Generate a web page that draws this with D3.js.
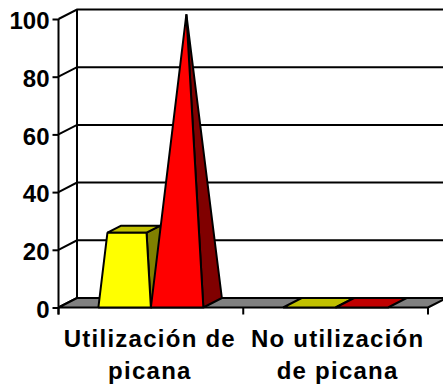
<!DOCTYPE html>
<html>
<head>
<meta charset="utf-8">
<script src="https://cdn.jsdelivr.net/npm/d3@7"></script>
<style>
  html, body { margin: 0; padding: 0; background: #fff; }
  svg { display: block; }
  text { font-family: "Liberation Sans", Arial, sans-serif; font-weight: bold; fill: #000; }
  .wall { stroke: #000; stroke-width: 2; fill: none; }
  .tick-y text { font-size: 24px; }
  .tick-x text { font-size: 24px; letter-spacing: 1.25px; }
  .face { stroke: #000; stroke-width: 2; stroke-linejoin: bevel; }
</style>
</head>
<body>
<svg width="443" height="387"></svg>
<script>
const categories = [['Utilización de', 'picana'], ['No utilización', 'de picana']];
const yTickValues = [0, 20, 40, 60, 80, 100];
const yellowValues = [25.5, 0];
const redValues = [100, 0];
const seriesNames = ['yellow', 'red'];
const frontColors = ['#ffff00', '#ff0000'];
const topColors = ['#c0c000', '#c00000'];
const sideColors = ['#808000', '#800000'];

const svg = d3.select('svg');
const width = +svg.attr('width');

const depthX = 18.5;
const depthY = 9.5;

const yScale = d3.scaleLinear().domain([0, 100]).range([307.5, 19]);
const xScale = d3.scaleBand().domain(d3.range(categories.length)).range([58.5, 428]);
const seriesScale = d3.scaleBand().domain(seriesNames).range([0, xScale.bandwidth()]).paddingOuter(0.76);

// d is depth into the chart, 0 at the front plane and 1 at the back wall
const project = (x, v, d) => [x + d * depthX, yScale(v) - d * depthY];
const floorLeft = xScale.range()[0];
const floorRight = xScale.range()[1];

// walls and grid
const gridG = svg.append('g');
yTickValues.forEach(v => {
  const front = project(floorLeft, v, 0);
  const back = project(floorLeft, v, 1);
  gridG.append('path').attr('class', 'wall')
    .attr('d', d3.line()([front, back, [width, back[1]]]));
});
const wallTop = project(floorLeft, 100, 1);
const wallBottom = project(floorLeft, 0, 1);
gridG.append('path').attr('class', 'wall').attr('d', d3.line()([wallTop, wallBottom]));

// floor
svg.append('path')
  .attr('class', 'face')
  .attr('fill', '#808080')
  .attr('d', d3.line()([
    project(floorLeft, 0, 0),
    project(floorRight, 0, 0),
    project(floorRight, 0, 1),
    project(floorLeft, 0, 1)
  ]) + 'Z');

// truncated pyramids, narrowing to a point at 100
const drawBar = (group, s, v) => {
  const x0 = xScale(group) + seriesScale(seriesNames[s]);
  const w = seriesScale.bandwidth();
  const shrink = 1 - v / 100;
  const xl = x0 + w / 2 - w / 2 * shrink;
  const xr = x0 + w / 2 + w / 2 * shrink;
  const dn = 0.5 - 0.5 * shrink;
  const df = 0.5 + 0.5 * shrink;
  const poly = (pts, fill) => svg.append('path')
    .attr('class', 'face')
    .attr('fill', fill)
    .attr('d', d3.line()(pts) + 'Z');

  if (v > 0) {
    poly([project(x0 + w, 0, 0), project(x0 + w, 0, 1), project(xr, v, df), project(xr, v, dn)], sideColors[s]);
    if (shrink > 0) poly([project(xl, v, dn), project(xr, v, dn), project(xr, v, df), project(xl, v, df)], topColors[s]);
    poly([project(x0, 0, 0), project(x0 + w, 0, 0), project(xr, v, dn), project(xl, v, dn)], frontColors[s]);
  } else {
    poly([project(x0, 0, 0), project(x0 + w, 0, 0), project(x0 + w, 0, 1), project(x0, 0, 1)], topColors[s]);
  }
};
categories.forEach((c, i) => {
  drawBar(i, 0, yellowValues[i]);
  drawBar(i, 1, redValues[i]);
});

// axes
const yAxis = d3.axisLeft(yScale).tickValues(yTickValues).tickSize(6).tickPadding(3);
const yAxisG = svg.append('g').attr('class', 'tick-y')
  .attr('transform', `translate(${floorLeft},0)`)
  .call(yAxis);
yAxisG.select('.domain').attr('stroke', '#000').attr('stroke-width', 2)
  .attr('d', d3.line()([[0, yScale(100)], [0, yScale(0) + 7]]));
yAxisG.selectAll('.tick line').attr('stroke', '#000').attr('stroke-width', 2);
yAxisG.selectAll('.tick text').attr('dy', '0.4em');

const xAxis = d3.axisBottom(xScale).tickSize(0).tickPadding(0).tickFormat('');
const xAxisG = svg.append('g').attr('class', 'tick-x')
  .attr('transform', `translate(0,${yScale(0)})`)
  .call(xAxis);
xAxisG.select('.domain').remove();
xScale.domain().concat([categories.length]).forEach(i => {
  const x = i < categories.length ? xScale(i) : floorRight;
  xAxisG.append('line').attr('x1', x).attr('x2', x).attr('y1', 0).attr('y2', 7)
    .attr('stroke', '#000').attr('stroke-width', 2);
});
xAxisG.selectAll('.tick').each(function (i) {
  const t = d3.select(this).select('text').attr('y', 0).attr('dy', null);
  t.selectAll('tspan').data(categories[i]).join('tspan')
    .attr('x', i ? 2 : -1)
    .attr('y', (d, k) => 39 + k * 32)
    .text(d => d);
});
</script>
</body>
</html>
